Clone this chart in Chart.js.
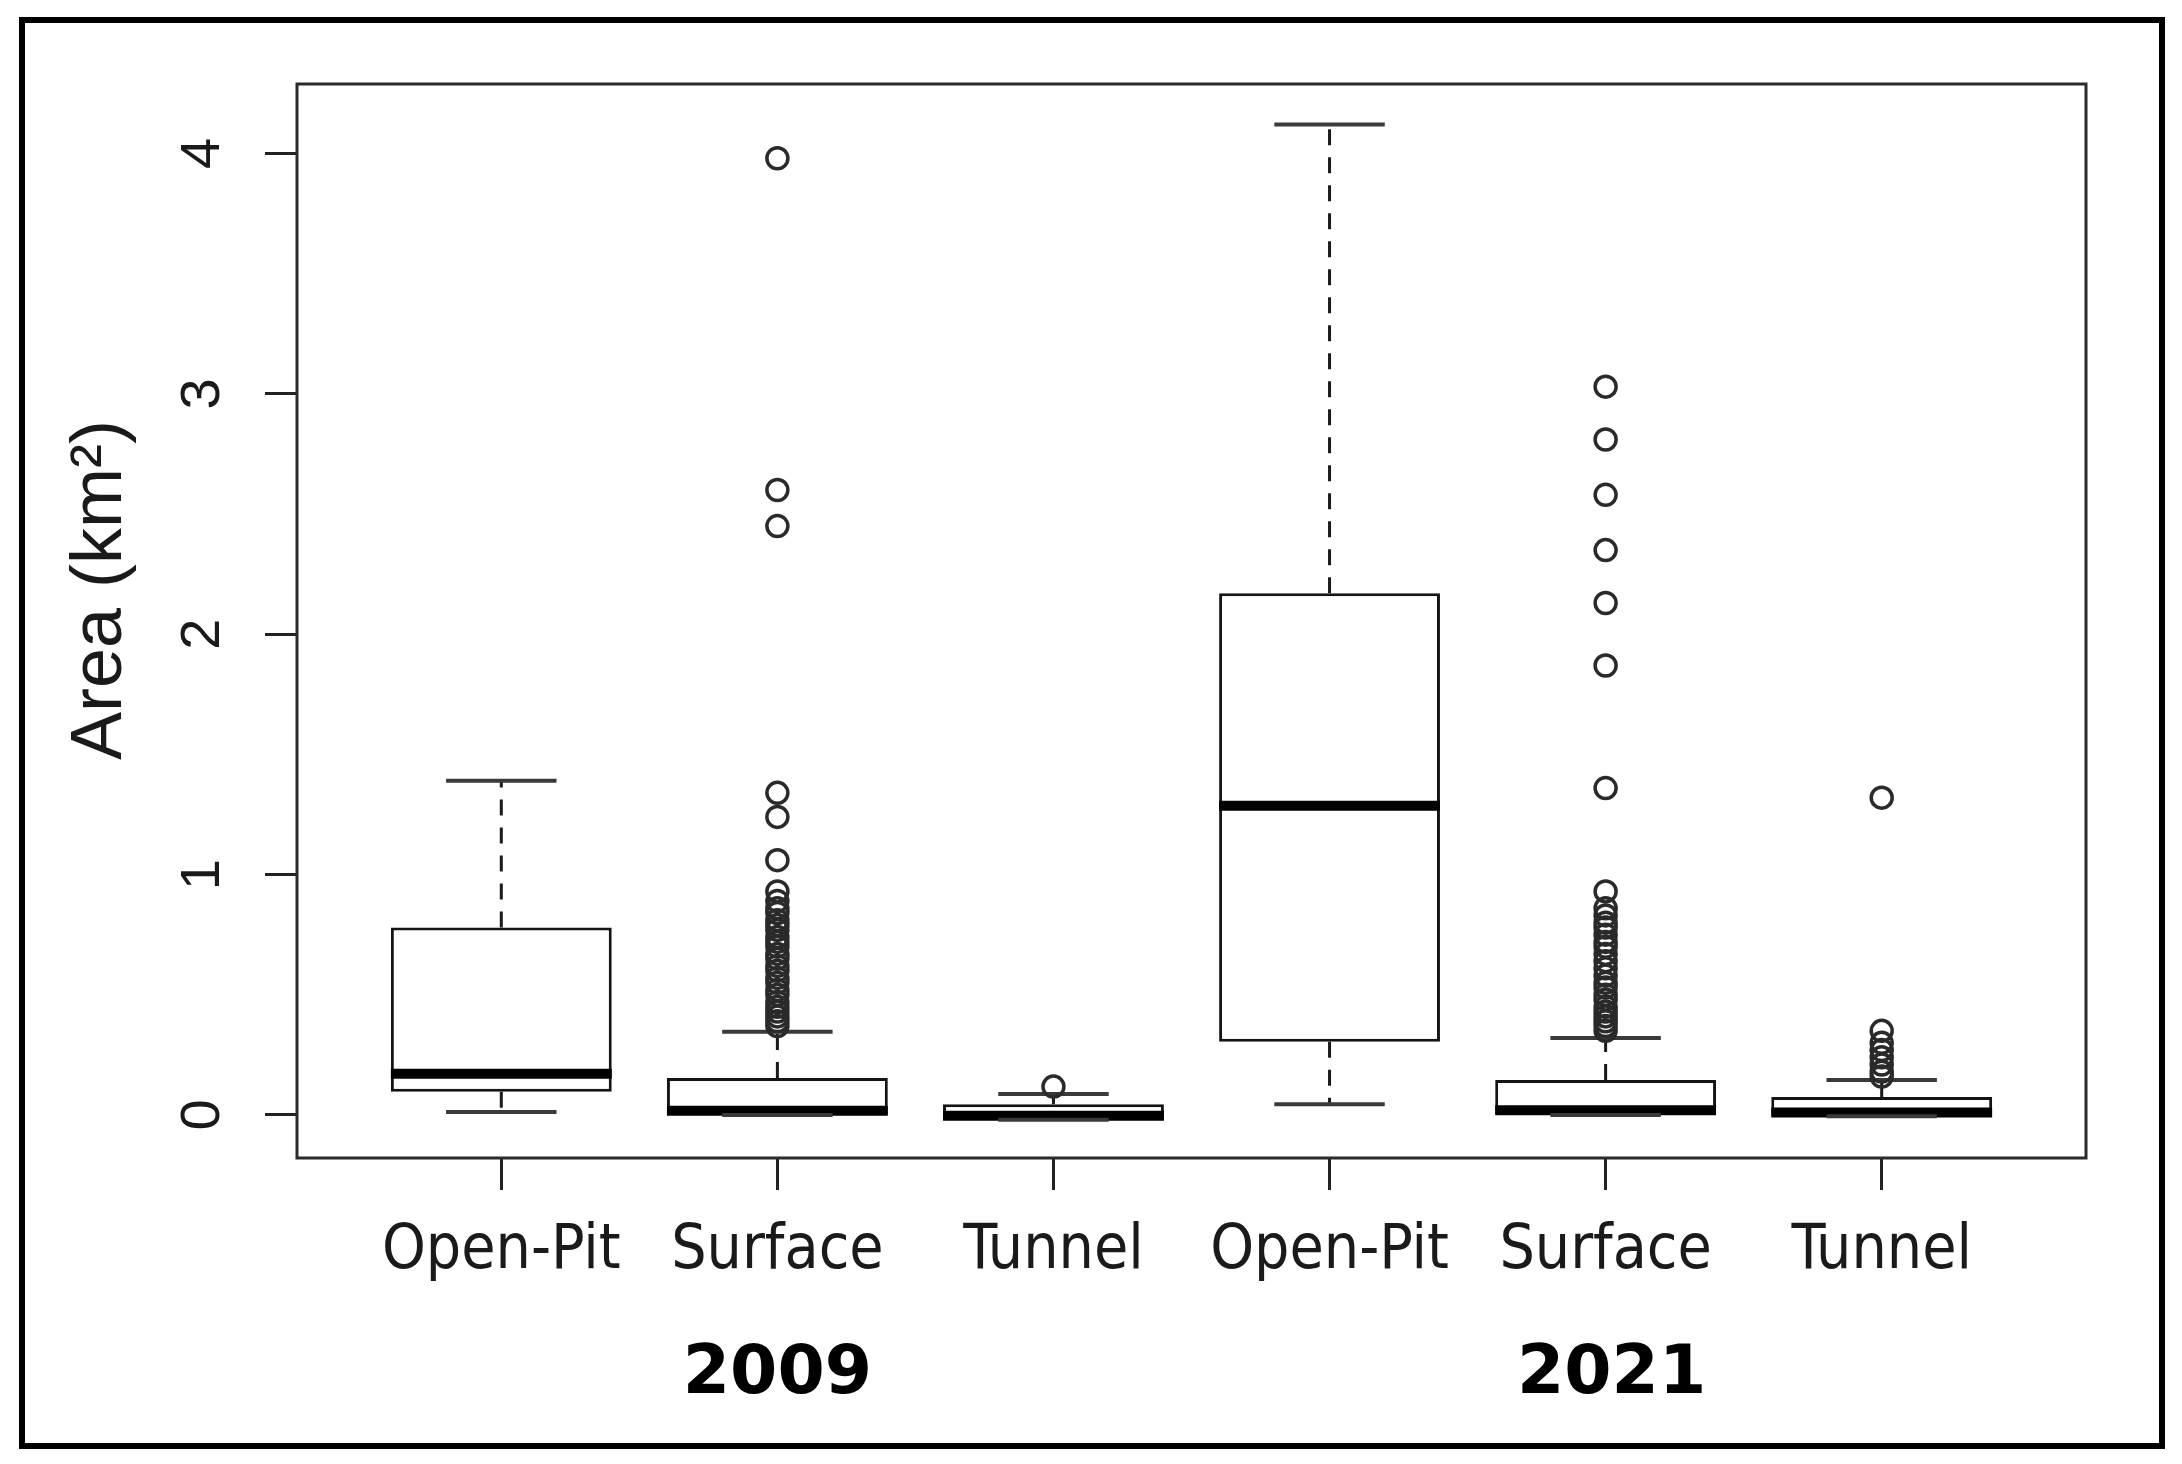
<!DOCTYPE html>
<html>
<head>
<meta charset="utf-8">
<title>Area by mining type, 2009 and 2021</title>
<script src="https://cdn.jsdelivr.net/npm/chart.js@4.4.1/dist/chart.umd.min.js"></script>
<style>
  html, body { margin: 0; padding: 0; background: #fff; }
  #wrap { position: relative; width: 2182px; height: 1464px; }
</style>
</head>
<body>
<div id="wrap"><canvas id="chart"></canvas></div>
<script>
// ---- data (km²) ----
const categories = ['Open-Pit', 'Surface', 'Tunnel', 'Open-Pit', 'Surface', 'Tunnel'];
const years = ['2009', '2021'];
const yearGroup = [0, 0, 0, 1, 1, 1];

const whiskerLow  = [0.012, 0.000, -0.020, 0.045, 0.000, -0.005];
const q1          = [0.097, 0.002, -0.020, 0.305, 0.003, -0.005];
const medians     = [0.171, 0.018, -0.003, 1.286, 0.020, 0.010];
const q3          = [0.780, 0.154, 0.045, 2.170, 0.146, 0.075];
const whiskerHigh = [1.390, 0.346, 0.087, 4.120, 0.320, 0.146];

const outliers = [
  [],
  [3.98, 2.60, 2.45, 1.34, 1.24, 1.06, 0.93, 0.89, 0.86, 0.84, 0.81, 0.79, 0.77,
   0.74, 0.72, 0.70, 0.67, 0.65, 0.62, 0.60, 0.57, 0.55, 0.52, 0.50, 0.47, 0.45,
   0.43, 0.41, 0.39, 0.37],
  [0.118],
  [],
  [3.03, 2.81, 2.58, 2.35, 2.13, 1.87, 1.36, 0.93, 0.86, 0.83, 0.80, 0.78, 0.75,
   0.72, 0.70, 0.67, 0.64, 0.61, 0.58, 0.55, 0.53, 0.50, 0.48, 0.45, 0.43, 0.41,
   0.39, 0.37, 0.35],
  [1.32, 0.35, 0.30, 0.27, 0.24, 0.21, 0.18, 0.16]
];

const yTicks = [0, 1, 2, 3, 4];

// ---- build datasets (x positions are 1..n, like R's boxplot) ----
const BOX_HALF = 0.4;   // boxwex 0.8
const CAP_HALF = 0.2;   // staplewex 0.5

const boxData = [], medianData = [], whiskerData = [], capData = [], outlierData = [];
categories.forEach((c, i) => {
  const x = i + 1;
  boxData.push({ x: x, y: [q1[i], q3[i]] });
  medianData.push({ x: x - BOX_HALF, y: medians[i] }, { x: x + BOX_HALF, y: medians[i] }, { x: x, y: null });
  whiskerData.push({ x: x, y: q3[i] }, { x: x, y: whiskerHigh[i] }, { x: x, y: null },
                   { x: x, y: q1[i] }, { x: x, y: whiskerLow[i] }, { x: x, y: null });
  capData.push({ x: x - CAP_HALF, y: whiskerHigh[i] }, { x: x + CAP_HALF, y: whiskerHigh[i] }, { x: x, y: null },
               { x: x - CAP_HALF, y: whiskerLow[i] }, { x: x + CAP_HALF, y: whiskerLow[i] }, { x: x, y: null });
  outliers[i].forEach(v => outlierData.push({ x: x, y: v }));
});

// frame, rotated y labels, year labels
const decorations = {
  id: 'decorations',
  afterDraw(chart) {
    const { ctx, chartArea: a, scales } = chart;
    ctx.save();
    // plot box
    ctx.strokeStyle = '#2b2b2b';
    ctx.lineWidth = 3;
    ctx.strokeRect(a.left, a.top, a.right - a.left, a.bottom - a.top);
    // outer figure border
    ctx.strokeStyle = '#000';
    ctx.lineWidth = 6;
    ctx.strokeRect(22, 20, 2140, 1426);

    ctx.fillStyle = '#1a1a1a';
    // y tick labels, parallel to the axis
    ctx.font = '56px "Liberation Sans", Arial, sans-serif';
    ctx.textAlign = 'center';
    ctx.textBaseline = 'alphabetic';
    yTicks.forEach(v => {
      const y = scales.y.getPixelForValue(v);
      ctx.save();
      ctx.translate(219, y);
      ctx.rotate(-Math.PI / 2);
      ctx.fillText(String(v), 0, 0);
      ctx.restore();
    });
    // y title
    ctx.font = '72px "Liberation Sans", Arial, sans-serif';
    ctx.save();
    ctx.translate(121, 590);
    ctx.rotate(-Math.PI / 2);
    ctx.fillText('Area (km²)', 0, 0);
    ctx.restore();
    // year group labels
    ctx.font = 'bold 68px "DejaVu Sans", Verdana, sans-serif';
    ctx.fillStyle = '#000';
    years.forEach((yr, g) => {
      const idx = yearGroup.map((gg, i) => gg === g ? i + 1 : null).filter(v => v !== null);
      const mid = idx.reduce((s, v) => s + v, 0) / idx.length;
      ctx.fillText(yr, scales.x.getPixelForValue(mid) + 6 * g, 1393);
    });
    ctx.restore();
  }
};

new Chart(document.getElementById('chart'), {
  type: 'bar',
  data: {
    datasets: [
      {
        type: 'line', label: 'whiskers', data: whiskerData, order: 5,
        borderColor: '#1a1a1a', borderWidth: 3, borderDash: [16, 12],
        pointRadius: 0, spanGaps: false, fill: false
      },
      {
        type: 'bar', label: 'boxes', data: boxData, order: 4,
        backgroundColor: '#ffffff', borderColor: '#141414', borderWidth: 3,
        borderSkipped: false, barPercentage: 0.8, categoryPercentage: 1.0
      },
      {
        type: 'line', label: 'medians', data: medianData, order: 3,
        borderColor: '#000', borderWidth: 10, pointRadius: 0, spanGaps: false, fill: false
      },
      {
        type: 'line', label: 'caps', data: capData, order: 2,
        borderColor: '#3a3a3a', borderWidth: 4, pointRadius: 0, spanGaps: false, fill: false
      },
      {
        type: 'scatter', label: 'outliers', data: outlierData, order: 1,
        pointStyle: 'circle', pointRadius: 10.5, borderWidth: 3.5,
        borderColor: '#2a2a2a', backgroundColor: 'rgba(0,0,0,0)', showLine: false
      }
    ]
  },
  options: {
    responsive: true,
    maintainAspectRatio: false,
    animation: false,
    events: [],
    layout: { padding: { left: 0, top: 84, right: 96, bottom: 0 } },
    plugins: { legend: { display: false }, tooltip: { enabled: false } },
    scales: {
      x: {
        type: 'linear',
        min: 0.26, max: 6.74,
        offset: false,
        afterBuildTicks: s => { s.ticks = categories.map((c, i) => ({ value: i + 1 })); },
        afterFit: s => { s.height = 306; },
        border: { display: false },
        grid: { drawOnChartArea: false, offset: false, drawTicks: true, tickLength: 32, tickWidth: 3, tickColor: '#222' },
        ticks: {
          autoSkip: false, maxRotation: 0, padding: 25,
          color: '#1a1a1a',
          font: { family: '"DejaVu Sans Condensed", "DejaVu Sans", Verdana, sans-serif', size: 62 },
          callback: v => categories[Math.round(v) - 1]
        }
      },
      y: {
        type: 'linear',
        min: -0.179, max: 4.289,
        afterBuildTicks: s => { s.ticks = yTicks.map(v => ({ value: v })); },
        afterFit: s => { s.width = 297; },
        border: { display: false },
        grid: { drawOnChartArea: false, drawTicks: true, tickLength: 32, tickWidth: 3, tickColor: '#222' },
        ticks: { display: false }
      }
    }
  },
  plugins: [decorations]
});
</script>
</body>
</html>
